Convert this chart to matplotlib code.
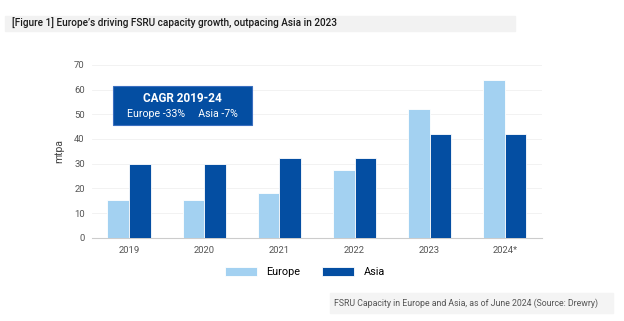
import numpy as np
import matplotlib.pyplot as plt
from matplotlib.patches import Rectangle

plt.rcParams['font.family'] = ['Roboto', 'DejaVu Sans']

years = ['2019', '2020', '2021', '2022', '2023', '2024*']
europe = [15.5, 15.5, 18, 27.5, 52, 64]
asia = [30, 30, 32.3, 32.3, 42, 42]

light = '#A3D1F1'
dark = '#044EA2'

fig = plt.figure(figsize=(6.24, 3.21), dpi=100)
ax = fig.add_axes([0.147, 0.259, 0.722, 0.539])

x = np.arange(len(years))
w = 0.29
ax.bar(x - w / 2, europe, w, color=light, edgecolor='white', linewidth=0.6, label='Europe', zorder=3)
ax.bar(x + w / 2, asia, w, color=dark, edgecolor='white', linewidth=0.6, label='Asia', zorder=3)

ax.set_xlim(-0.5, 5.5)
ax.set_ylim(0, 70)
ax.set_yticks(range(0, 71, 10))
ax.set_xticks(x)
ax.set_xticklabels(years)
ax.tick_params(length=0, labelsize=6.8, colors='#555555', pad=6)
ax.tick_params(axis='y', pad=5)
ax.grid(axis='y', color='#f0f0f0', linewidth=0.6, zorder=0)
for s in ['top', 'right', 'left']:
    ax.spines[s].set_visible(False)
ax.spines['bottom'].set_color('#cccccc')
ax.spines['bottom'].set_linewidth(0.8)
ax.set_ylabel('mtpa', fontsize=7.5, color='#444444', labelpad=7)

# title band
fig.patches.append(Rectangle((5 / 624, 1 - 31 / 321), 510 / 624, 15 / 321,
                             transform=fig.transFigure, color='#f2f2f2', zorder=0))
fig.text(12 / 624, 1 - 23 / 321,
         "[Figure 1] Europe\u2019s driving FSRU capacity growth, outpacing Asia in 2023",
         fontsize=7.2, fontweight='medium', color='#1a1a1a', va='center', ha='left')

# CAGR box
fig.patches.append(Rectangle((113 / 624, 1 - 125 / 321), 139 / 624, 39 / 321,
                             transform=fig.transFigure, facecolor=dark,
                             edgecolor='#3b6fc0', linewidth=0.8, zorder=5))
fig.text(182 / 624, 1 - 98 / 321, 'CAGR 2019-24', fontsize=8.5, fontweight='bold',
         color='white', ha='center', va='center', zorder=6)
fig.text(182 / 624, 1 - 114 / 321, 'Europe -33%     Asia -7%', fontsize=7.6,
         color='white', ha='center', va='center', zorder=6)

# legend
fig.legend(loc='center', bbox_to_anchor=(305 / 624, 1 - 272 / 321), ncol=2,
           frameon=False, fontsize=7.8, handlelength=2.9, handleheight=1.0,
           columnspacing=2.0, handletextpad=0.9)

# source box
fig.patches.append(Rectangle((330 / 624, 1 - 313 / 321), 283 / 624, 20 / 321,
                             transform=fig.transFigure, color='#f4f4f4', zorder=0))
fig.text(334 / 624, 1 - 303 / 321,
         'FSRU Capacity in Europe and Asia, as of June 2024 (Source: Drewry)',
         fontsize=6.3, color='#555555', ha='left', va='center')

fig.savefig('out.png', dpi=100)
